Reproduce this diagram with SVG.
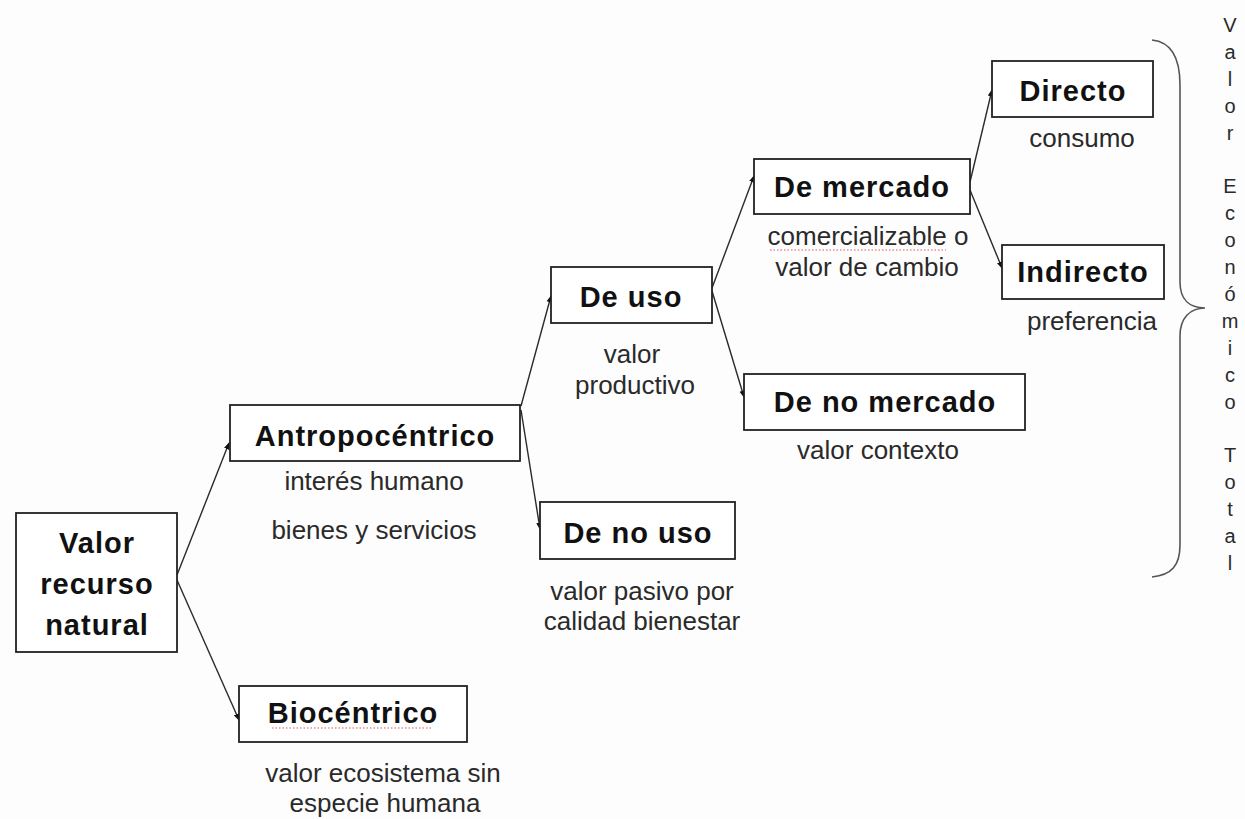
<svg xmlns="http://www.w3.org/2000/svg" width="1245" height="819" viewBox="0 0 1245 819">
<defs>
<style>
.box{fill:#fff;stroke:#222;stroke-width:1.8}
.lbl{font-family:"Liberation Sans",Arial,sans-serif;font-size:29px;font-weight:bold;fill:#111;text-anchor:middle;letter-spacing:1px}
.sub{font-family:"Liberation Sans",Arial,sans-serif;font-size:26px;fill:#2a2a2a;text-anchor:middle}
.vt{font-family:"Liberation Sans",Arial,sans-serif;font-size:20px;fill:#2a2a2a;text-anchor:middle}
.con{stroke:#2a2a2a;stroke-width:1.4;fill:none;marker-end:url(#ah)}
.sq{stroke:#e05050;stroke-width:1.2;stroke-dasharray:1.5 2;fill:none}
</style>
<marker id="ah" viewBox="0 0 10 10" refX="9" refY="5" markerWidth="7" markerHeight="7" markerUnits="userSpaceOnUse" orient="auto">
<path d="M0,1 L10,5 L0,9 Z" fill="#111"/>
</marker>
</defs>
<rect width="1245" height="819" fill="#fdfdfd"/>

<g id="connectors">
<line class="con" x1="177" y1="575" x2="229" y2="443"/>
<line class="con" x1="177" y1="580" x2="239" y2="720"/>
<line class="con" x1="521" y1="406" x2="551" y2="296"/>
<line class="con" x1="521" y1="410" x2="540" y2="529"/>
<line class="con" x1="712" y1="288" x2="754" y2="176"/>
<line class="con" x1="712" y1="291" x2="744" y2="397"/>
<line class="con" x1="970" y1="182" x2="992" y2="90"/>
<line class="con" x1="970" y1="190" x2="1002" y2="268"/>
</g>

<g id="valor-recurso-natural">
<rect class="box" x="16" y="513" width="161" height="139"/>
<text class="lbl" x="97" y="553">Valor</text>
<text class="lbl" x="97" y="594">recurso</text>
<text class="lbl" x="97" y="635">natural</text>
</g>

<g id="antropocentrico">
<rect class="box" x="230" y="405" width="290" height="56"/>
<text class="lbl" x="375" y="446">Antropocéntrico</text>
<text class="sub" x="374" y="490">interés humano</text>
<text class="sub" x="374" y="539">bienes y servicios</text>
</g>

<g id="biocentrico">
<rect class="box" x="239" y="686" width="228" height="56"/>
<text class="lbl" x="353" y="723">Biocéntrico</text>
<path class="sq" d="M272,728 L432,728"/>
<text class="sub" x="383" y="782">valor ecosistema sin</text>
<text class="sub" x="385" y="812">especie humana</text>
</g>

<g id="de-uso">
<rect class="box" x="551" y="267" width="161" height="56"/>
<text class="lbl" x="631" y="307">De uso</text>
<text class="sub" x="632" y="363">valor</text>
<text class="sub" x="635" y="394">productivo</text>
</g>

<g id="de-no-uso">
<rect class="box" x="540" y="502" width="195" height="57"/>
<text class="lbl" x="638" y="543">De no uso</text>
<text class="sub" x="642" y="600">valor pasivo por</text>
<text class="sub" x="642" y="630">calidad bienestar</text>
</g>

<g id="de-mercado">
<rect class="box" x="754" y="159" width="216" height="55"/>
<text class="lbl" x="862" y="197">De mercado</text>
<text class="sub" x="868" y="245">comercializable o</text>
<path class="sq" d="M770,250 L946,250"/>
<text class="sub" x="867" y="276">valor de cambio</text>
</g>

<g id="de-no-mercado">
<rect class="box" x="744" y="374" width="281" height="56"/>
<text class="lbl" x="885" y="412">De no mercado</text>
<text class="sub" x="878" y="459">valor contexto</text>
</g>

<g id="directo">
<rect class="box" x="992" y="61" width="161" height="56"/>
<text class="lbl" x="1073" y="101">Directo</text>
<text class="sub" x="1082" y="147">consumo</text>
</g>

<g id="indirecto">
<rect class="box" x="1002" y="245" width="162" height="54"/>
<text class="lbl" x="1083" y="282">Indirecto</text>
<text class="sub" x="1092" y="330">preferencia</text>
</g>

<g id="valor-economico-total">
<path d="M1152,40 C1172,42 1180,60 1180,85 L1180,282 C1180,300 1190,308 1205,308 C1190,308 1180,318 1180,336 L1180,545 C1180,565 1172,575 1152,577" fill="none" stroke="#555" stroke-width="1.6"/>
<text class="vt" x="1230" y="32">V</text>
<text class="vt" x="1230" y="59">a</text>
<text class="vt" x="1230" y="86">l</text>
<text class="vt" x="1230" y="113">o</text>
<text class="vt" x="1230" y="140">r</text>
<text class="vt" x="1230" y="193">E</text>
<text class="vt" x="1230" y="220">c</text>
<text class="vt" x="1230" y="247">o</text>
<text class="vt" x="1230" y="274">n</text>
<text class="vt" x="1230" y="301">ó</text>
<text class="vt" x="1230" y="328">m</text>
<text class="vt" x="1230" y="355">i</text>
<text class="vt" x="1230" y="382">c</text>
<text class="vt" x="1230" y="409">o</text>
<text class="vt" x="1230" y="462">T</text>
<text class="vt" x="1230" y="489">o</text>
<text class="vt" x="1230" y="516">t</text>
<text class="vt" x="1230" y="543">a</text>
<text class="vt" x="1230" y="570">l</text>
</g>
</svg>
